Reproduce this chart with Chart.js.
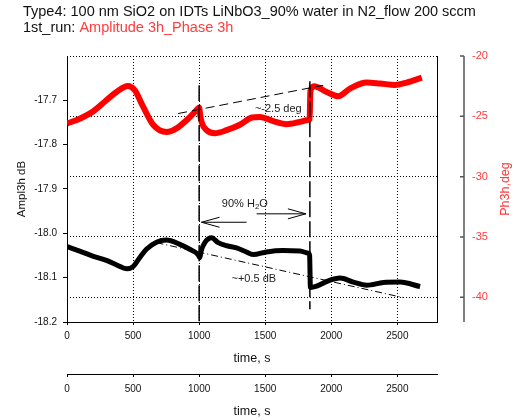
<!DOCTYPE html>
<html>
<head>
<meta charset="utf-8">
<script src="https://cdn.jsdelivr.net/npm/chart.js@4.4.1/dist/chart.umd.min.js"></script>
<style>
  html, body { margin: 0; padding: 0; background: #fff; }
</style>
</head>
<body>
<canvas id="chart" width="518" height="420"></canvas>
<script>
// Phase 3h (right axis, deg)
const phaseTime = [0, 96, 197, 298, 374, 462, 513, 576, 652, 753, 829, 917, 992, 1000, 1008, 1018, 1056, 1119, 1208, 1308, 1400, 1460, 1561, 1662, 1763, 1826, 1836, 1842, 1870, 1965, 2053, 2142, 2268, 2369, 2483, 2571, 2685];
const phaseDeg  = [-25.6, -25.2, -24.6, -23.67, -22.98, -22.48, -22.84, -24.2, -25.7, -26.3, -26.0, -25.2, -24.35, -24.27, -24.9, -25.46, -26.15, -26.4, -26.15, -25.7, -25.1, -25.05, -25.4, -25.65, -25.46, -25.3, -25.25, -22.9, -22.5, -22.98, -23.34, -22.7, -22.2, -22.28, -22.4, -22.2, -21.8];

// Amplitude 3h (left axis, dB)
const amplTime = [0, 96, 200, 298, 380, 450, 500, 550, 601, 677, 753, 854, 929, 992, 1005, 1015, 1043, 1094, 1144, 1210, 1283, 1350, 1409, 1510, 1636, 1763, 1826, 1836, 1842, 1889, 1977, 2066, 2167, 2268, 2394, 2520, 2672];
const amplDb   = [-18.030, -18.040, -18.052, -18.061, -18.072, -18.080, -18.075, -18.055, -18.036, -18.020, -18.015, -18.025, -18.036, -18.048, -18.055, -18.040, -18.021, -18.010, -18.021, -18.028, -18.033, -18.041, -18.048, -18.042, -18.039, -18.040, -18.045, -18.050, -18.122, -18.119, -18.107, -18.101, -18.110, -18.117, -18.111, -18.110, -18.120];

// tick labels
const timeTicks = [0, 500, 1000, 1500, 2000, 2500];
const amplTicks = [-18.2, -18.1, -18.0, -17.9, -17.8, -17.7];
const phaseTicks = [-40, -35, -30, -25, -20];

// marker lines (time, value)
const gasOnLine  = [[1000, -17.666], [1000, -18.2]];
const gasOffLine = [[1838, -17.657], [1838, -18.171]];
const phaseTrend = [[841, -24.77], [1939, -22.43]];
const amplTrend  = [[677, -18.021], [2545, -18.145]];

// arrows for the 90% H2O interval (dB axis)
const arrowBack = [[1359, -17.975], [1018, -17.975]];
const arrowFwd  = [[1435, -17.956], [1808, -17.956]];

const RED = '#ff0000';
const RED_TEXT = '#ff3b3b';
const FONT = '"Liberation Sans", Arial, sans-serif';

Chart.defaults.font.family = FONT;
Chart.defaults.color = '#111';

function pts(xs, ys) {
  return xs.map(function (t, i) { return { x: t, y: ys[i] }; });
}
function pairPts(p) {
  return p.map(function (q) { return { x: q[0], y: q[1] }; });
}

function markerSet(data, axis, dash, width) {
  return {
    data: pairPts(data),
    yAxisID: axis,
    borderColor: '#000',
    borderWidth: width,
    borderDash: dash,
    pointRadius: 0,
    fill: false,
    tension: 0,
    order: 0
  };
}

const extras = {
  id: 'extras',
  afterDatasetsDraw(chart) {
    const ctx = chart.ctx;
    const a = chart.chartArea;
    const sx = chart.scales.x, sy = chart.scales.y, sy1 = chart.scales.y1;
    ctx.save();

    // arrows
    ctx.strokeStyle = '#000';
    ctx.lineWidth = 1;
    function arrow(p) {
      const x0 = sx.getPixelForValue(p[0][0]), y0 = sy.getPixelForValue(p[0][1]);
      const x1 = sx.getPixelForValue(p[1][0]), y1 = sy.getPixelForValue(p[1][1]);
      const ang = Math.atan2(y1 - y0, x1 - x0);
      const L = 18, W = 5;
      ctx.beginPath();
      ctx.moveTo(x0, y0); ctx.lineTo(x1, y1);
      ctx.moveTo(x1 - L * Math.cos(ang) + W * Math.sin(ang), y1 - L * Math.sin(ang) - W * Math.cos(ang));
      ctx.lineTo(x1, y1);
      ctx.lineTo(x1 - L * Math.cos(ang) - W * Math.sin(ang), y1 - L * Math.sin(ang) + W * Math.cos(ang));
      ctx.stroke();
    }
    arrow(arrowBack);
    arrow(arrowFwd);

    // notes
    ctx.fillStyle = '#222';
    ctx.font = '11px ' + FONT;
    ctx.textBaseline = 'middle';
    ctx.textAlign = 'left';
    ctx.fillText('~-2.5 deg', sx.getPixelForValue(1422), sy1.getPixelForValue(-24.41));
    ctx.fillText('~+0.5 dB', sx.getPixelForValue(1245), sy.getPixelForValue(-18.102));
    let hx = sx.getPixelForValue(1172), hy = sy.getPixelForValue(-17.933);
    ctx.fillText('90% H', hx, hy);
    hx += ctx.measureText('90% H').width;
    ctx.font = '8px ' + FONT;
    ctx.fillText('2', hx, hy + 3);
    hx += ctx.measureText('2').width;
    ctx.font = '11px ' + FONT;
    ctx.fillText('O', hx, hy);

    // phase axis, set apart from the frame
    const ax = 464;
    ctx.strokeStyle = '#555';
    ctx.lineWidth = 1.5;
    ctx.beginPath();
    ctx.moveTo(ax, a.top); ctx.lineTo(ax, a.bottom);
    phaseTicks.forEach(function (v) {
      const py = sy1.getPixelForValue(v);
      ctx.moveTo(ax - 4, py); ctx.lineTo(ax, py);
    });
    ctx.stroke();

    ctx.save();
    ctx.translate(506, (a.top + a.bottom) / 2);
    ctx.rotate(-Math.PI / 2);
    ctx.fillStyle = RED_TEXT;
    ctx.font = '12.5px ' + FONT;
    ctx.textAlign = 'center';
    ctx.fillText('Ph3h,deg', 0, 0);
    ctx.restore();

    // header
    ctx.fillStyle = '#111';
    ctx.font = '14.5px ' + FONT;
    ctx.textBaseline = 'alphabetic';
    ctx.textAlign = 'left';
    ctx.fillText('Type4: 100 nm SiO2 on IDTs LiNbO3_90% water in N2_flow 200 sccm', 23, 16);
    ctx.fillText('1st_run: ', 23, 31.5);
    const w = ctx.measureText('1st_run: ').width;
    ctx.fillStyle = RED_TEXT;
    ctx.fillText('Amplitude 3h_Phase 3h', 23 + w, 31.5);
    ctx.restore();
  }
};

function timeLabel(v) { return String(v); }

new Chart(document.getElementById('chart'), {
  type: 'line',
  data: {
    datasets: [
      markerSet(gasOnLine, 'y', [16, 4], 1.5),
      markerSet(gasOffLine, 'y', [16, 4], 1.5),
      markerSet(phaseTrend, 'y1', [9, 5], 1),
      markerSet(amplTrend, 'y', [7, 3, 1, 3], 1),
      {
        label: 'Phase 3h',
        data: pts(phaseTime, phaseDeg),
        yAxisID: 'y1',
        borderColor: RED,
        borderWidth: 6,
        pointRadius: 0,
        cubicInterpolationMode: 'monotone',
        fill: false,
        order: 1
      },
      {
        label: 'Amplitude 3h',
        data: pts(amplTime, amplDb),
        yAxisID: 'y',
        borderColor: '#000',
        borderWidth: 5,
        pointRadius: 0,
        cubicInterpolationMode: 'monotone',
        fill: false,
        order: 1
      }
    ]
  },
  options: {
    responsive: false,
    animation: false,
    layout: { padding: { top: 56, left: 0, right: 0, bottom: 0 } },
    plugins: { legend: { display: false }, tooltip: { enabled: false }, title: { display: false } },
    scales: {
      x: {
        type: 'linear', position: 'bottom', min: 0, max: 2800,
        afterBuildTicks: function (s) { s.ticks = timeTicks.map(function (v) { return { value: v }; }); },
        afterFit: function (s) { s.height = 52; },
        grid: { color: '#000', lineWidth: 1, tickLength: 3, tickColor: '#000' },
        border: { color: '#000', width: 1, dash: [1, 2] },
        ticks: { font: { size: 10 }, padding: 5, maxRotation: 0, callback: timeLabel },
        title: { display: true, text: 'time, s', font: { size: 12.5 }, padding: { top: 0, bottom: 8 } }
      },
      x2: {
        type: 'linear', position: 'bottom', min: 0, max: 2800,
        afterBuildTicks: function (s) { s.ticks = timeTicks.map(function (v) { return { value: v }; }); },
        afterFit: function (s) { s.height = 46; },
        grid: { drawOnChartArea: false, color: '#000', tickLength: 3 },
        border: { color: '#000', width: 1 },
        ticks: { font: { size: 10 }, padding: 6, maxRotation: 0, callback: timeLabel },
        title: { display: true, text: 'time, s', font: { size: 12.5 }, padding: { top: 0, bottom: 1 } }
      },
      y: {
        type: 'linear', position: 'left', min: -18.2, max: -17.6,
        afterBuildTicks: function (s) { s.ticks = amplTicks.map(function (v) { return { value: v }; }); },
        afterFit: function (s) { s.width = 67; },
        grid: { drawOnChartArea: false, color: '#000', tickLength: 4 },
        border: { color: '#000', width: 1 },
        ticks: { font: { size: 10 }, padding: 6, callback: function (v) { return v.toFixed(1); } },
        title: { display: true, text: 'Ampl3h dB', font: { size: 11.5 }, padding: { top: 15, bottom: 0 } }
      },
      y1: {
        type: 'linear', position: 'right', min: -42.05, max: -20,
        afterBuildTicks: function (s) { s.ticks = phaseTicks.map(function (v) { return { value: v }; }); },
        afterFit: function (s) { s.width = 81; },
        grid: { color: '#000', lineWidth: 1, drawTicks: false },
        border: { color: '#000', width: 1, dash: [1, 2] },
        ticks: { color: RED_TEXT, font: { size: 11 }, padding: 35 }
      }
    }
  },
  plugins: [extras]
});
</script>
</body>
</html>
